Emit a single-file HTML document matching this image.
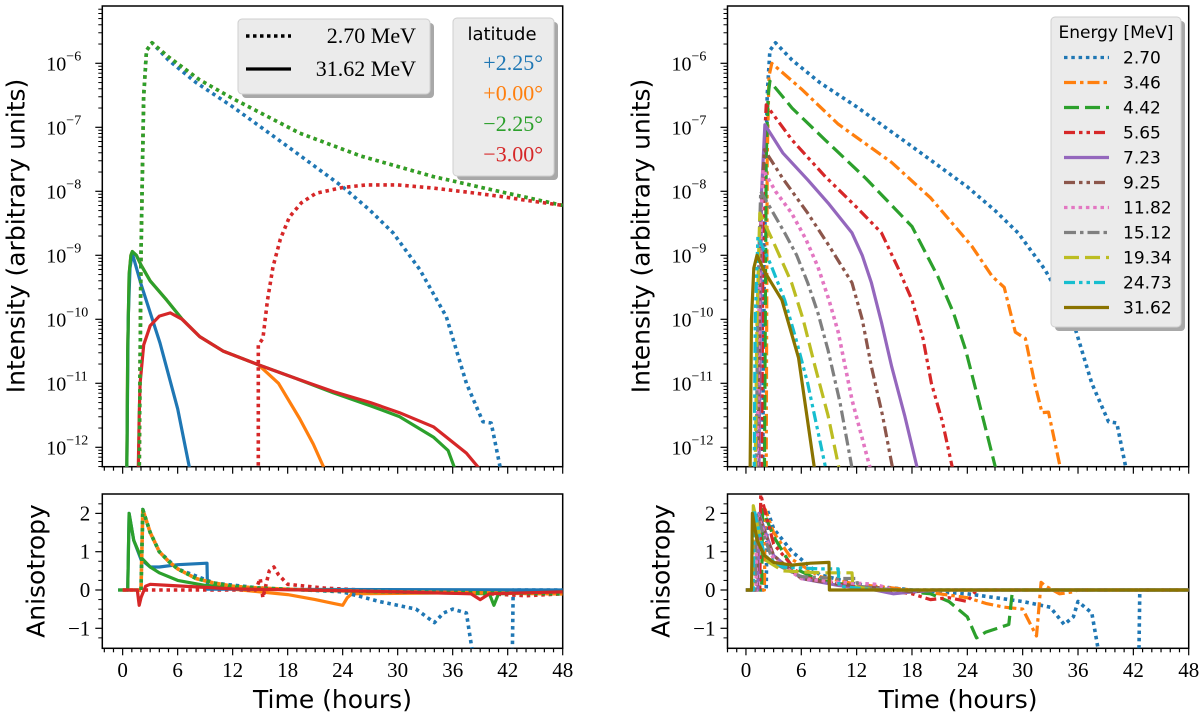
<!DOCTYPE html>
<html><head><meta charset="utf-8"><style>
body{margin:0;background:#fff;}
svg{display:block;font-family:"Liberation Serif",serif;}
.sans{font-family:"DejaVu Sans","Liberation Sans",sans-serif;}
</style></head><body>
<svg id="chart" width="1200" height="722" viewBox="0 0 1200 722" xmlns="http://www.w3.org/2000/svg">
<defs>
<clipPath id="cLT"><rect x="102.3" y="6" width="460.4" height="460.7"/></clipPath>
<clipPath id="cLB"><rect x="102.3" y="494" width="460.4" height="154.3"/></clipPath>
<clipPath id="cRT"><rect x="727.5" y="6" width="461.2" height="460.7"/></clipPath>
<clipPath id="cRB"><rect x="727.5" y="494" width="461.2" height="154.3"/></clipPath>
</defs>
<g id="layer"></g>
</svg>
<script>
// ---- Left intensity data: [hours, log10 intensity] ----
const leftDotBlue=[[1.8,-12.4],[2.0,-9],[2.3,-6.5],[2.6,-5.8],[3.2,-5.68],[5,-5.95],[8,-6.3],[12,-6.68],[18,-7.3],[24,-7.93],[27,-8.3],[29.5,-8.65],[32.4,-9.22],[35.3,-9.96],[37.5,-11.0],[39.3,-11.6],[40.2,-11.62],[41.3,-12.4]];
const leftDotGreen=[[1.8,-12.4],[2.0,-9],[2.3,-6.5],[2.6,-5.8],[3.2,-5.68],[5,-5.9],[8.4,-6.26],[12,-6.55],[19.3,-7.09],[26,-7.45],[33.9,-7.77],[41,-8.0],[48,-8.22]];
const leftDotOrange=[[1.8,-12.4],[2.0,-9],[2.3,-6.5],[2.6,-5.8],[3.2,-5.68],[5,-5.9],[8.4,-6.26],[12,-6.55],[19.3,-7.09],[26,-7.45],[33.9,-7.77],[41,-8.0],[48,-8.22]];
const leftDotRed=[[14.8,-12.4],[14.8,-10.4],[15.3,-10.3],[15.8,-9.7],[16.4,-9.18],[17.2,-8.75],[18.2,-8.4],[19.5,-8.18],[21.1,-8.03],[24,-7.94],[26.6,-7.9],[30,-7.9],[33.9,-7.95],[38,-8.02],[41.2,-8.08],[44,-8.14],[48,-8.22]];
const leftSolBlue=[[0.45,-12.4],[0.6,-10],[0.8,-9.2],[1.05,-8.97],[2,-9.45],[4.07,-10.37],[6,-11.4],[7.4,-12.4]];
const leftSolGreen=[[0.45,-12.4],[0.55,-10.5],[0.7,-9.3],[0.9,-9.0],[1.05,-8.94],[1.5,-9.0],[2,-9.15],[3,-9.4],[4.8,-9.7],[6.5,-10.0],[8.4,-10.27],[11,-10.5],[14.8,-10.71],[19,-10.93],[23,-11.15],[27,-11.35],[30.2,-11.52],[33.9,-11.84],[35.5,-12.05],[36.4,-12.4]];
const leftSolOrange=[[0.45,-12.4],[0.55,-10.5],[0.7,-9.3],[0.9,-9.0],[1.05,-8.94],[1.5,-9.0],[2,-9.15],[3,-9.4],[4.8,-9.7],[6.5,-10.0],[8.4,-10.27],[11,-10.5],[14.8,-10.71],[17,-11.0],[19.3,-11.55],[20.8,-11.95],[22.2,-12.4]];
const leftSolRed=[[1.7,-12.4],[1.8,-11.5],[1.9,-11],[2.3,-10.4],[3,-10.1],[4,-9.95],[5.2,-9.9],[6.5,-10.0],[8.4,-10.27],[11,-10.5],[14.8,-10.71],[19,-10.93],[23,-11.13],[27,-11.3],[30.2,-11.46],[33.9,-11.68],[37.5,-12.09],[39.3,-12.4]];
// ---- Left anisotropy ----
const aLSolGreen=[[-0.5,0],[0.55,0],[0.7,2.0],[1.2,1.3],[2,0.85],[3,0.6],[4,0.45],[6,0.25],[9,0.12],[12,0.07],[16,0.03],[20,0],[28,-0.05],[36,-0.08],[40,-0.1],[40.5,-0.4],[41,-0.1],[48,-0.05]];
const aLSolBlue=[[-0.5,0],[0.55,0],[0.7,2.0],[1.2,1.3],[2,0.8],[3,0.6],[4,0.6],[6,0.66],[9.2,0.7],[9.25,0.02],[48,0]];
const aLSolOrange=[[12,0.02],[15,-0.05],[18,-0.12],[21,-0.25],[23,-0.35],[24,-0.4],[24.5,-0.2],[25,-0.1],[48,-0.05]];
const aLSolRed=[[0,0],[1.6,0],[1.8,-0.4],[2,-0.2],[2.5,0.1],[3,0.15],[5,0.12],[8,0.08],[12,0.03],[20,0],[30,-0.05],[38,-0.1],[39,-0.25],[40,-0.1],[48,-0.05]];
const aLDotGreen=[[0,0],[2.0,0],[2.2,2.1],[3,1.5],[4,1.0],[5,0.75],[6,0.55],[8,0.3],[10,0.18],[12,0.1],[15,0.05],[20,0],[30,-0.05],[48,-0.1]];
const aLDotOrange=[[0,0],[2.0,0],[2.2,2.1],[3,1.5],[4,1.0],[5,0.75],[6,0.55],[8,0.3],[10,0.18],[12,0.1],[15,0.05],[20,0],[30,-0.05],[48,-0.1]];
const aLDotBlue=[[2.0,0],[2.2,2.1],[3,1.5],[4,1.0],[6,0.55],[10,0.18],[15,0.05],[20,0],[24,-0.05],[28,-0.3],[32,-0.5],[34,-0.85],[35,-0.6],[36,-0.5],[37.5,-0.6],[38.2,-1.7],[42.5,-1.7],[42.6,0],[48,0]];
const aLDotRed=[[0,0],[14.5,0],[15,0.3],[15.3,-0.2],[16,0.5],[16.5,0.6],[17,0.4],[18,0.15],[20,0.1],[22,0.05],[26,0],[35,-0.05],[40,-0.1],[44,-0.15],[48,-0.1]];
// ---- Right intensity per energy ----
const energies=["2.70","3.46","4.42","5.65","7.23","9.25","11.82","15.12","19.34","24.73","31.62"];
const rE0=[[1.8,-12.4],[2.0,-9],[2.3,-6.5],[2.6,-5.8],[3.2,-5.68],[5,-5.95],[8,-6.3],[12,-6.68],[18,-7.3],[24,-7.93],[27,-8.3],[29.5,-8.65],[32.4,-9.22],[35.3,-9.96],[37.5,-11.0],[39.3,-11.6],[40.2,-11.62],[41.3,-12.4]];
const rE1=[[2.2,-12.4],[2.3,-7.5],[2.5,-6.2],[2.8,-6.0],[6,-6.4],[10,-6.95],[15.8,-7.55],[20,-8.1],[24.5,-8.86],[26.7,-9.33],[28,-9.5],[29.2,-10.2],[30.3,-10.3],[31.3,-11.0],[32.1,-11.46],[32.8,-11.45],[34.2,-12.4]];
const rE2=[[2.0,-12.4],[2.2,-7.5],[2.4,-6.5],[2.6,-6.28],[5,-6.7],[8.6,-7.2],[13,-7.8],[18,-8.55],[20.8,-9.33],[22.5,-9.9],[23.8,-10.47],[25.2,-11.26],[27.2,-12.4]];
const rE3=[[1.7,-12.4],[1.9,-7.5],[2.2,-6.65],[5,-7.2],[8.6,-7.77],[12,-8.25],[14.7,-8.65],[16.5,-9.2],[18,-9.7],[19.2,-10.3],[20.1,-11.0],[21.3,-11.6],[22.5,-12.4]];
const rE4=[[1.4,-12.4],[1.7,-8],[2.06,-6.96],[4,-7.4],[6.7,-7.82],[9,-8.2],[11.5,-8.65],[12.6,-9.0],[13.6,-9.43],[14.7,-10.05],[15.8,-10.74],[17.2,-11.5],[18.7,-12.4]];
const rE5=[[1.3,-12.4],[1.6,-8.5],[2.0,-7.35],[4,-7.8],[6.7,-8.34],[9,-8.85],[11.5,-9.43],[12.6,-10.0],[13.6,-10.74],[14.8,-11.5],[16.0,-12.4]];
const rE6=[[1.2,-12.4],[1.5,-9],[1.85,-7.66],[3.2,-8.0],[4.95,-8.34],[6.5,-8.75],[7.8,-9.18],[9,-9.7],[10,-10.2],[11.5,-11.26],[13.6,-12.4]];
const rE7=[[1.1,-12.4],[1.3,-9.5],[1.6,-8.0],[2.8,-8.3],[4.2,-8.65],[5.5,-9.0],[6.7,-9.43],[7.8,-9.9],[8.9,-10.48],[10.2,-11.3],[11.6,-12.4]];
const rE8=[[1.0,-12.4],[1.2,-10],[1.5,-8.34],[3,-8.8],[4.95,-9.43],[6.2,-10.0],[7.5,-10.74],[8.9,-11.5],[10.2,-12.4]];
const rE9=[[0.9,-12.4],[1.0,-10],[1.3,-8.71],[2.7,-9.15],[4.2,-9.7],[5.4,-10.3],[6.7,-11.0],[8.75,-12.4]];
const rE10=[[0.45,-12.4],[0.6,-10],[0.85,-9.2],[1.2,-9.0],[2,-9.25],[3.9,-9.7],[5.7,-10.6],[7.5,-12.4]];
// ---- Right anisotropy per energy ----
const aR0=[[0,0],[2.2,0],[2.3,2.1],[3,1.6],[5,1.0],[8,0.4],[12,0.15],[18,0],[24,-0.1],[30,-0.3],[33,-0.45],[34.5,-0.9],[35.5,-0.7],[36,-0.3],[37.5,-0.6],[38.3,-1.7],[42.6,-1.7],[42.7,0],[48,0]];
const aR1=[[0,0],[2,0],[2.1,2.1],[3,1.5],[5,0.8],[8,0.35],[12,0.15],[18,0],[24,-0.2],[26,-0.35],[28,-0.45],[30,-0.5],[31.5,-1.2],[32,0.2],[32.5,0.1],[34,-0.1],[35.5,-0.05],[36,0],[48,0]];
const aR2=[[0,0],[1.7,0],[1.8,2.1],[3,1.4],[5,0.6],[8,0.25],[12,0.1],[16,0],[20,-0.1],[22,-0.3],[24,-0.7],[25,-1.25],[26,-1.1],[28.5,-0.9],[28.9,0],[48,0]];
const aR3=[[0,0],[1.5,0],[1.6,2.5],[3,1.2],[6,0.35],[10,0.15],[14,0.02],[18,-0.1],[20,-0.25],[22,-0.2],[24,-0.3],[25,0],[48,0]];
const aR4=[[0,0],[1.3,0],[1.4,2],[3,0.9],[6,0.3],[10,0.12],[14,0],[16,-0.1],[18,-0.05],[21,0],[48,0]];
const aR5=[[0,0],[1.2,0],[1.3,2],[3,0.9],[6,0.3],[10,0.15],[15,0.05],[18,-0.05],[20,0],[48,0]];
const aR6=[[0,0],[1.1,0],[1.2,2],[3,0.8],[6,0.3],[10,0.2],[14,0.15],[16,0],[48,0]];
const aR7=[[0,0],[1,0],[1.1,2],[3,0.7],[6,0.35],[10,0.3],[12,0.3],[12.1,0.1],[16,0],[48,0]];
const aR8=[[0,0],[0.7,0],[0.8,2.2],[2,0.8],[4,0.5],[8,0.45],[11.5,0.45],[11.6,0.1],[14,0],[48,0]];
const aR9=[[0,0],[0.8,0],[0.9,2.1],[2,0.9],[4,0.6],[8,0.55],[10,0.55],[10.1,0.1],[14,0],[48,0]];
const aR10=[[0,0],[0.6,0],[0.7,2.0],[1.2,1.3],[2,0.9],[3,0.72],[5,0.65],[7,0.7],[9.0,0.72],[9.05,0],[48,0]];
const xTicks=[0,6,12,18,24,30,36,42,48];
const yDecades=[-12,-11,-10,-9,-8,-7,-6];
const aTicks=[-1,0,1,2];

const NS="http://www.w3.org/2000/svg";
const layer=document.getElementById('layer');
function el(tag,attrs,parent){const e=document.createElementNS(NS,tag);for(const k in attrs)e.setAttribute(k,attrs[k]);(parent||layer).appendChild(e);return e;}
const C={blue:"#1f77b4",orange:"#ff7f0e",green:"#2ca02c",red:"#d62728",purple:"#9467bd",brown:"#8c564b",pink:"#e377c2",gray:"#7f7f7f",yellow:"#bcbd22",cyan:"#17becf",olive:"#8a7300"};
const DOT="3.5 3.8",DD="12 4 3.5 4",DASH="15 6",DDD="11 4 3.5 4 3.5 4";

const panels={
 L:{x0:102.3,x1:562.7,t0:-2.22},
 R:{x0:727.5,x1:1188.7,t0:-2.0}
};
function xs(p,t){const P=panels[p];return P.x0+(t-P.t0)*(P.x1-P.x0)/(48-P.t0);}
function ylog(v){return 447.3-(v+12)*64;}
function yan(v){return 590-v*38.3;}

function drawLine(p,data,yf,color,dash,clip,name){
  const g=el('g',{'clip-path':'url(#'+clip+')'});
  const d=data.map((pt,i)=>(i?'L':'M')+xs(p,pt[0]).toFixed(1)+' '+yf(pt[1]).toFixed(1)).join(' ');
  const path=el('path',{d:d,fill:'none',stroke:color,'stroke-width':dash===DOT?3.6:3.2,'stroke-linejoin':'round','stroke-dasharray':dash||'none'},g);
  
  
  return path;
}

function axes(p,top,name){
  const P=panels[p];
  const y0=top?6:494,y1=top?466.7:648.3;
  const f=el('rect',{x:P.x0,y:y0,width:P.x1-P.x0,height:y1-y0,fill:'none',stroke:'#000','stroke-width':1.5});
  
  
  for(let t=-2;t<=48;t++){
    const x=xs(p,t);const maj=t%6===0&&t>=0;
    el('line',{x1:x,x2:x,y1:y1,y2:y1+(maj?7:4),stroke:'#000','stroke-width':1.2});
  }
  if(!top){
    xTicks.forEach(t=>{
      const tx=el('text',{x:xs(p,t),y:677,'font-size':21,'text-anchor':'middle'});
      tx.textContent=t;
      
      
    });
    const xl=el('text',{x:(P.x0+P.x1)/2,y:708,'font-size':25,'text-anchor':'middle',class:'sans'});
    xl.textContent='Time (hours)';
    
    
    aTicks.forEach(v=>{
      const y=yan(v);
      el('line',{x1:P.x0-7,x2:P.x0,y1:y,y2:y,stroke:'#000','stroke-width':1.2});
      const tx=el('text',{x:P.x0-12,y:y+7,'font-size':21,'text-anchor':'end'});
      tx.textContent=v<0?'\u2212'+(-v):v;
      
      
    });
    for(let v=-1.25;v<=2.4;v+=0.25){if(Math.abs(v-Math.round(v))>0.01){const y=yan(v);el('line',{x1:P.x0-4,x2:P.x0,y1:y,y2:y,stroke:'#000','stroke-width':1});}}
    const yl=el('text',{x:0,y:0,'font-size':25,'text-anchor':'middle',class:'sans',transform:'translate('+(P.x0-58)+',571) rotate(-90)'});
    yl.textContent='Anisotropy';
    
    
  } else {
    yDecades.forEach(d=>{
      const y=ylog(d);
      el('line',{x1:P.x0-7,x2:P.x0,y1:y,y2:y,stroke:'#000','stroke-width':1.2});
      const tx=el('text',{x:P.x0-36,y:y+7,'font-size':20,'text-anchor':'end'});
      tx.textContent='10';
      
      
      const sp=el('text',{x:P.x0-36,y:y-3,'font-size':14,'text-anchor':'start'});
      sp.textContent='\u2212'+(-d);
      for(let m=2;m<=9;m++){const ym=ylog(d+Math.log10(m));if(ym>6)el('line',{x1:P.x0-4,x2:P.x0,y1:ym,y2:ym,stroke:'#000','stroke-width':1});}
    });
    for(let m=5;m<=9;m++){el('line',{x1:P.x0-4,x2:P.x0,y1:ylog(-13+Math.log10(m)),y2:ylog(-13+Math.log10(m)),stroke:'#000','stroke-width':1});}
    const yl=el('text',{x:0,y:0,'font-size':25,'text-anchor':'middle',class:'sans',transform:'translate('+(P.x0-78)+',236) rotate(-90)'});
    yl.textContent='Intensity (arbitrary units)';
    
    
  }
}
axes('L',true,'left-intensity');axes('L',false,'left-anisotropy');
axes('R',true,'right-intensity');axes('R',false,'right-anisotropy');

drawLine('L',leftSolOrange,ylog,C.orange,null,'cLT','line-31.62-lat-0.00');
drawLine('L',leftSolBlue,ylog,C.blue,null,'cLT','line-31.62-lat-+2.25');
drawLine('L',leftSolGreen,ylog,C.green,null,'cLT','line-31.62-lat-2.25');
drawLine('L',leftSolRed,ylog,C.red,null,'cLT','line-31.62-lat-3.00');
drawLine('L',leftDotBlue,ylog,C.blue,DOT,'cLT','line-2.70-lat-+2.25');
drawLine('L',leftDotOrange,ylog,C.orange,DOT,'cLT','line-2.70-lat-0.00');
drawLine('L',leftDotGreen,ylog,C.green,DOT,'cLT','line-2.70-lat-2.25');
drawLine('L',leftDotRed,ylog,C.red,DOT,'cLT','line-2.70-lat-3.00');

drawLine('L',aLSolOrange,yan,C.orange,null,'cLB','aniso-31.62-lat-0.00');
drawLine('L',aLDotBlue,yan,C.blue,DOT,'cLB','aniso-2.70-lat-+2.25');
drawLine('L',aLDotRed,yan,C.red,DOT,'cLB','aniso-2.70-lat-3.00');
drawLine('L',aLSolBlue,yan,C.blue,null,'cLB','aniso-31.62-lat-+2.25');
drawLine('L',aLSolGreen,yan,C.green,null,'cLB','aniso-31.62-lat-2.25');
drawLine('L',aLDotOrange,yan,C.orange,DOT,'cLB','aniso-2.70-lat-0.00');
const gd=drawLine('L',aLDotGreen,yan,C.green,DOT,'cLB','aniso-2.70-lat-2.25');gd.setAttribute('stroke-dashoffset','3.6');
drawLine('L',aLSolRed,yan,C.red,null,'cLB','aniso-31.62-lat-3.00');

const rSeries=[rE0,rE1,rE2,rE3,rE4,rE5,rE6,rE7,rE8,rE9,rE10];
const aSeries=[aR0,aR1,aR2,aR3,aR4,aR5,aR6,aR7,aR8,aR9,aR10];
const rColors=[C.blue,C.orange,C.green,C.red,C.purple,C.brown,C.pink,C.gray,C.yellow,C.cyan,C.olive];
const rDash=[DOT,DD,DASH,DDD,null,DDD,DOT,DD,DASH,DDD,null];
for(let i=0;i<11;i++){drawLine('R',rSeries[i],ylog,rColors[i],rDash[i],'cRT','line-'+energies[i]+'-mev');}
for(let i=0;i<11;i++){drawLine('R',aSeries[i],yan,rColors[i],rDash[i],'cRB','aniso-'+energies[i]+'-mev');}

function box(x,y,w,h,name){
  el('rect',{x:x+4,y:y+4,width:w,height:h,rx:4,fill:'#a8a8a8'});
  const r=el('rect',{x:x,y:y,width:w,height:h,rx:4,fill:'#ebebeb',stroke:'#cfcfcf','stroke-width':1});
  
  
}
box(238,19,192,75,'legend-linestyle');
el('line',{x1:246,x2:291,y1:36,y2:36,stroke:'#000','stroke-width':3.5,'stroke-dasharray':'3.5 3.5'});
el('line',{x1:246,x2:291,y1:69,y2:69,stroke:'#000','stroke-width':3.2});
let t=el('text',{x:416,y:43,'font-size':22,'text-anchor':'end'});t.textContent='2.70 MeV';

t=el('text',{x:416,y:76,'font-size':22,'text-anchor':'end'});t.textContent='31.62 MeV';

box(453,18,101,158,'legend-latitude');
t=el('text',{x:502,y:40,'font-size':18,'text-anchor':'middle',class:'sans'});t.textContent='latitude';

const lats=['+2.25°','+0.00°','\u22122.25°','\u22123.00°'];const latC=[C.blue,C.orange,C.green,C.red];
lats.forEach((s,i)=>{const tt=el('text',{x:543,y:70+i*30.5,'font-size':22,'text-anchor':'end',fill:latC[i]});tt.textContent=s;
});
box(1051,17,130,310,'legend-energy');
t=el('text',{x:1116,y:38,'font-size':17,'text-anchor':'middle',class:'sans'});t.textContent='Energy [MeV]';

energies.forEach((e,i)=>{const y=57.5+i*25;
  el('line',{x1:1064,x2:1109,y1:y,y2:y,stroke:rColors[i],'stroke-width':3.2,'stroke-dasharray':rDash[i]||'none'});
  const tt=el('text',{x:1123,y:y+6,'font-size':17,class:'sans'});tt.textContent=e;
  });
</script>
</body></html>
